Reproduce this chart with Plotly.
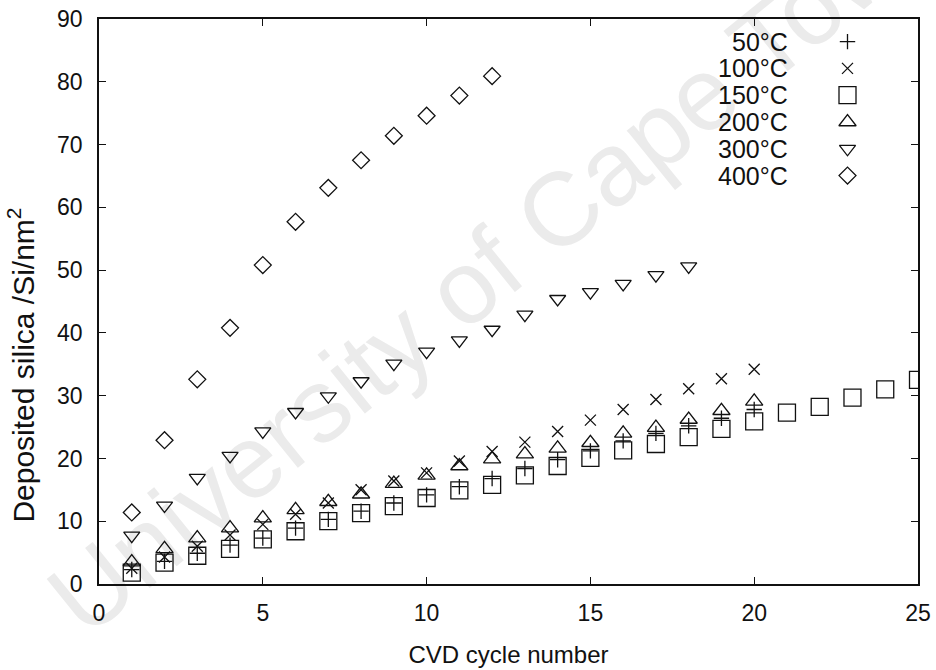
import plotly.graph_objects as go

# Deposited silica (Si atoms per nm^2) versus CVD cycle number at each temperature
temps = ["50°C", "100°C", "150°C", "200°C", "300°C", "400°C"]

silica_50 = [2.3, 3.6, 4.9, 6.2, 7.3, 8.9, 10.3, 11.6, 12.9, 14.2,
             15.5, 16.8, 18.4, 19.8, 21.2, 22.8, 24.0, 25.2, 26.4, 27.8]
silica_100 = [2.5, 4.3, 6.0, 7.8, 9.5, 11.1, 12.9, 15.0, 16.4, 17.7,
              19.6, 21.1, 22.6, 24.3, 26.1, 27.8, 29.4, 31.1, 32.7, 34.2]
silica_150 = [1.8, 3.4, 4.5, 5.6, 7.1, 8.4, 10.0, 11.3, 12.4, 13.7,
              14.9, 15.8, 17.3, 18.8, 20.1, 21.3, 22.3, 23.4, 24.7, 25.9,
              27.3, 28.2, 29.7, 31.0, 32.5]
silica_200 = [3.5, 5.6, 7.3, 8.9, 10.5, 11.8, 13.1, 14.3, 16.0, 17.3,
              18.8, 19.9, 20.7, 21.6, 22.5, 24.0, 24.9, 26.2, 27.6, 29.1]
silica_300 = [7.7, 12.5, 16.9, 20.4, 24.3, 27.4, 29.9, 32.3, 35.1, 37.0,
              38.8, 40.5, 42.9, 45.4, 46.5, 47.8, 49.2, 50.6]
silica_400 = [11.4, 22.9, 32.6, 40.8, 50.8, 57.7, 63.1, 67.5, 71.4, 74.6,
              77.8, 80.9]

series = [silica_50, silica_100, silica_150, silica_200, silica_300, silica_400]

x_ticks = [0, 5, 10, 15, 20, 25]
y_ticks = [0, 10, 20, 30, 40, 50, 60, 70, 80, 90]

x_title = "CVD cycle number"
y_title = "Deposited silica /Si/nm<sup>2</sup>"

# marker style per temperature: (symbol, size)
styles = [
    ("cross-thin", 11),
    ("x-thin", 11),
    ("square-open", 17),
    ("triangle-up-open", 15),
    ("triangle-down-open", 14),
    ("diamond-open", 13),
]

FONT = "Liberation Sans, Arial, Helvetica, sans-serif"
INK = "#111111"
TICK_SIZE = 23
KEY_SIZE = 25

fig = go.Figure()

for name, vals, (sym, size) in zip(temps, series, styles):
    fig.add_trace(go.Scatter(
        x=list(range(1, len(vals) + 1)),
        y=vals,
        mode="markers",
        name=name,
        showlegend=False,
        marker=dict(symbol=sym, size=size, color=INK,
                    line=dict(color=INK, width=1.3)),
        hovertemplate=name + "<br>cycle %{x}<br>%{y} Si/nm²<extra></extra>",
    ))

# key: symbols on a small hidden axis pair, one row per temperature
rows = list(range(len(temps)))
for name, row, (sym, size) in zip(temps, rows, styles):
    fig.add_trace(go.Scatter(
        x=[0], y=[row], xaxis="x2", yaxis="y2", mode="markers",
        showlegend=False, hoverinfo="skip", cliponaxis=False,
        marker=dict(symbol=sym, size=size, color=INK,
                    line=dict(color=INK, width=1.3)),
    ))

# plot area in pixels -> paper helpers
L, R, T, B = 99, 918, 19.4, 584.4
W_PLOT, H_PLOT = R - L, B - T


def px_x(px):
    return (px - L) / W_PLOT


def px_y(py):
    return (B - py) / H_PLOT


key_top, key_bottom = 42, 176
annotations = []
for name, row in zip(temps, rows):
    py = key_top + (key_bottom - key_top) * row / (len(temps) - 1)
    annotations.append(dict(
        text=name, x=px_x(790), y=px_y(py), xref="paper", yref="paper",
        xanchor="right", yanchor="middle", showarrow=False,
        font=dict(family=FONT, size=KEY_SIZE, color=INK),
    ))

# y-axis title, set low along the left edge
annotations.append(dict(
    text=y_title, textangle=-90, x=px_x(21), y=px_y(366),
    xref="paper", yref="paper", xanchor="center", yanchor="middle",
    showarrow=False, font=dict(family=FONT, size=30, color=INK),
))

axis_common = dict(
    showgrid=False, zeroline=False, showline=True, linecolor=INK,
    linewidth=1.6, mirror="ticks", ticks="inside", ticklen=7,
    tickwidth=1.4, tickcolor=INK, automargin=False,
    tickfont=dict(family=FONT, size=TICK_SIZE, color=INK),
)

fig.update_layout(
    width=936, height=670,
    margin=dict(l=L, r=936 - R, t=T, b=670 - B, autoexpand=False),
    paper_bgcolor="white", plot_bgcolor="white",
    font=dict(family=FONT, color=INK),
    xaxis=dict(range=[0, 25], tickvals=x_ticks, ticklabelstandoff=8,
               title=dict(text=x_title, standoff=21,
                          font=dict(family=FONT, size=24, color=INK)),
               **axis_common),
    yaxis=dict(range=[0, 90], tickvals=y_ticks, ticklabelstandoff=10,
               **axis_common),
    xaxis2=dict(domain=[px_x(837.5), px_x(857.5)], range=[-1, 1],
                visible=False, anchor="y2", fixedrange=True),
    yaxis2=dict(domain=[px_y(key_bottom), px_y(key_top)],
                range=[len(temps) - 1, 0], visible=False, anchor="x2",
                fixedrange=True),
    annotations=annotations,
    shapes=[dict(
        type="line", xref="paper", yref="paper", layer="below",
        x0=px_x(75), y0=px_y(668), x1=px_x(985), y1=px_y(-69),
        line=dict(color="rgba(0,0,0,0)", width=0),
        label=dict(text="University of Cape Town", textposition="middle",
                   yanchor="bottom",
                   font=dict(family=FONT, size=104, color="#ebebeb")),
    )],
)

fig.write_html("out.html")
